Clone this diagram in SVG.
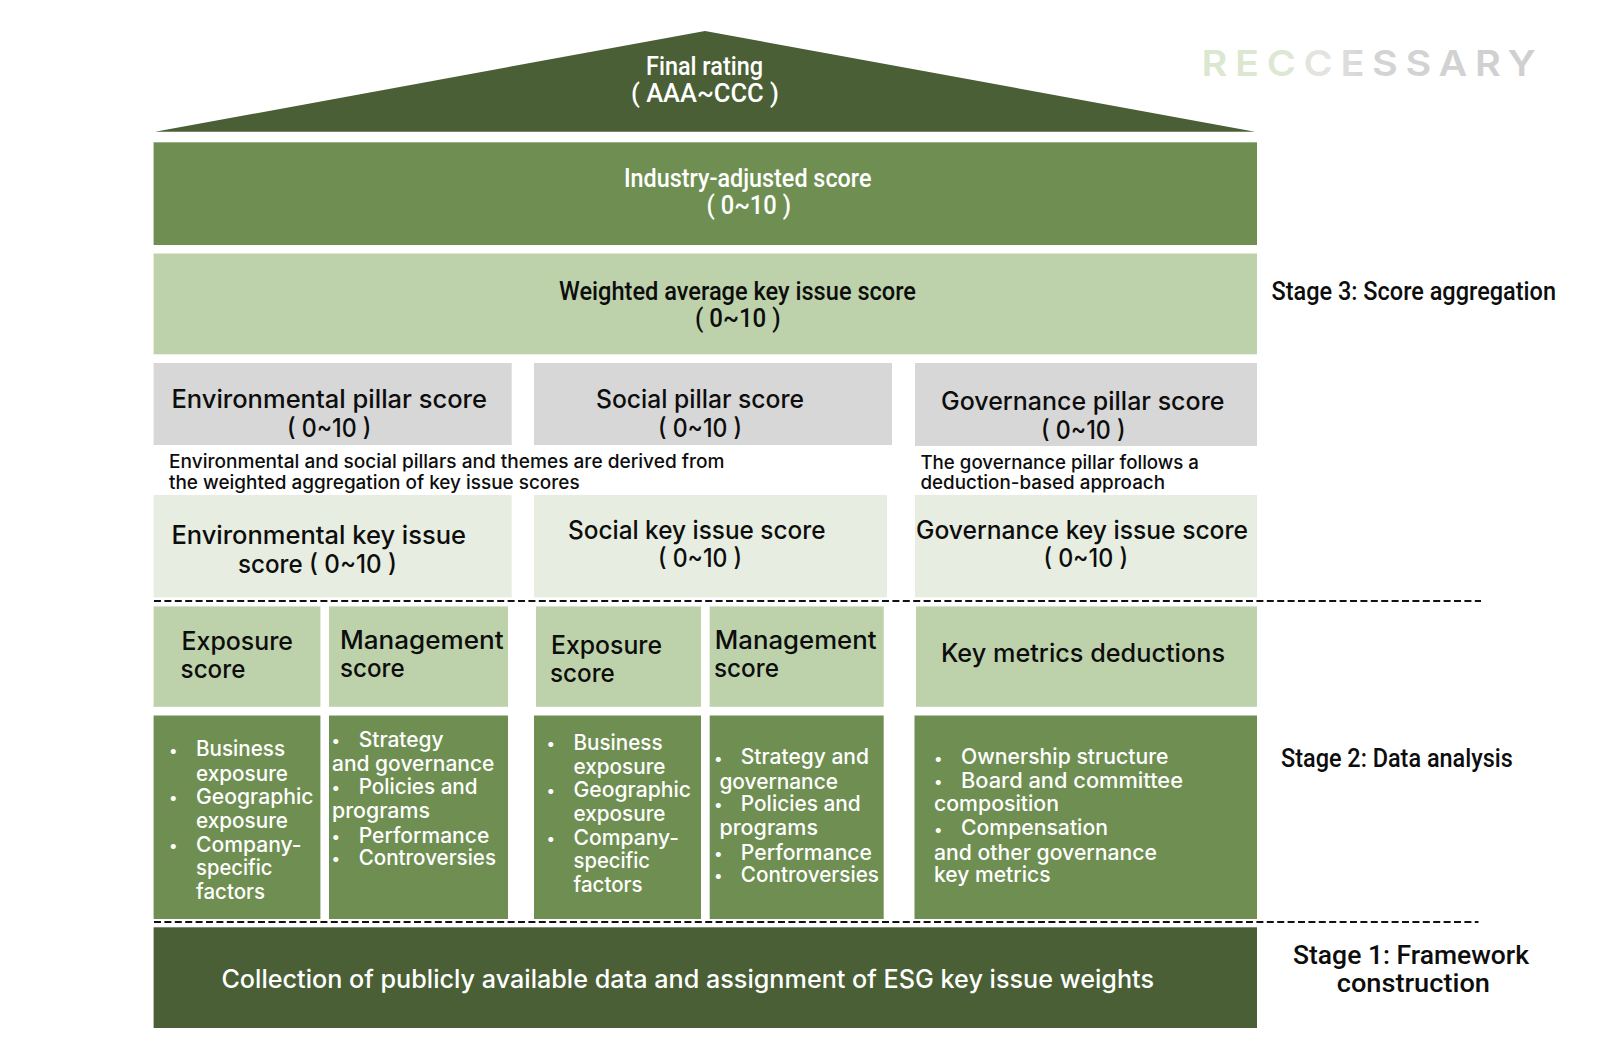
<svg xmlns="http://www.w3.org/2000/svg" width="1600" height="1058" viewBox="0 0 1600 1058">
<style>
text{white-space:pre}
.r{font-family:"Roboto","Liberation Sans",sans-serif;font-size:25.5px;font-weight:500}
.i{font-family:"Inter","Noto Sans",sans-serif;font-size:25px;font-weight:500}
.s{font-size:21px}
.n{font-size:18.5px}
.b{font-size:16px}
.w{fill:#fff}
.k{fill:#0d0d0d}
.dark{fill:#4a5f35}
.mid{fill:#6f8f52}
.light{fill:#bdd2aa}
.gray{fill:#d7d7d7}
.pale{fill:#e7ede0}
.dash{stroke:#111;stroke-width:2;stroke-dasharray:7 3.4;fill:none}
</style>
<defs>
<linearGradient id="logoFill" gradientUnits="userSpaceOnUse" x1="1201" y1="0" x2="1537" y2="0">
<stop offset="0" stop-color="#dbe7d0"/><stop offset="0.25" stop-color="#dde8d4"/><stop offset="0.38" stop-color="#e3e3e3"/><stop offset="0.5" stop-color="#d4d4d4"/><stop offset="1" stop-color="#cfcfcf"/>
</linearGradient>
</defs>
<rect width="1600" height="1058" fill="#fff"/>
<g id="logo"><text x="1201.5" y="76" font-family="Inter, sans-serif" font-size="36" font-weight="600" letter-spacing="7" fill="url(#logoFill)" textLength="342" lengthAdjust="spacingAndGlyphs">RECCESSARY</text></g>
<g id="final-rating"><polygon class="dark" points="705,31 1255,131.8 155,131.8"/>
<text class="r w" x="646" y="75" textLength="117" lengthAdjust="spacingAndGlyphs">Final rating</text>
<text class="r w" x="631" y="102" textLength="148" lengthAdjust="spacingAndGlyphs">( AAA~CCC )</text></g>
<g id="industry-adjusted"><rect class="mid" x="153.6" y="142.3" width="1103.4" height="102.7"/>
<text class="r w" x="624" y="186.6" textLength="247.4" lengthAdjust="spacingAndGlyphs">Industry-adjusted score</text>
<text class="r w" x="706.6" y="214" textLength="84.4" lengthAdjust="spacingAndGlyphs">( 0~10 )</text></g>
<g id="weighted-average"><rect class="light" x="153.6" y="253.5" width="1103.4" height="100.8"/>
<text class="r k" x="559" y="299.5" textLength="357" lengthAdjust="spacingAndGlyphs">Weighted average key issue score</text>
<text class="r k" x="695" y="327" textLength="85.6" lengthAdjust="spacingAndGlyphs">( 0~10 )</text></g>
<g id="stage-3"><text class="r k" x="1271.4" y="299.5" textLength="284.6" lengthAdjust="spacingAndGlyphs">Stage 3: Score aggregation</text></g>
<g id="env-pillar"><rect class="gray" x="153.6" y="363" width="358.1" height="82"/>
<text class="i k" x="171.4" y="408.4" textLength="315.6" lengthAdjust="spacingAndGlyphs">Environmental pillar score</text>
<text class="i k" x="287" y="436.5" textLength="84.4" lengthAdjust="spacingAndGlyphs">( 0~10 )</text></g>
<g id="soc-pillar"><rect class="gray" x="534" y="363" width="358" height="82"/>
<text class="i k" x="596" y="408.4" textLength="208" lengthAdjust="spacingAndGlyphs">Social pillar score</text>
<text class="i k" x="658" y="436.5" textLength="84" lengthAdjust="spacingAndGlyphs">( 0~10 )</text></g>
<g id="gov-pillar"><rect class="gray" x="915" y="363" width="342" height="83"/>
<text class="i k" x="941" y="410" textLength="283.5" lengthAdjust="spacingAndGlyphs">Governance pillar score</text>
<text class="i k" x="1041" y="438.5" textLength="84.5" lengthAdjust="spacingAndGlyphs">( 0~10 )</text></g>
<g id="env-soc-note"><text class="i n k" x="169" y="467.5" textLength="555.5" lengthAdjust="spacingAndGlyphs">Environmental and social pillars and themes are derived from</text>
<text class="i n k" x="169" y="488.5" textLength="410.6" lengthAdjust="spacingAndGlyphs">the weighted aggregation of key issue scores</text></g>
<g id="gov-note"><text class="i n k" x="920.4" y="468.6" textLength="278.6" lengthAdjust="spacingAndGlyphs">The governance pillar follows a</text>
<text class="i n k" x="920.4" y="489" textLength="244.6" lengthAdjust="spacingAndGlyphs">deduction-based approach</text></g>
<g id="env-key"><rect class="pale" x="153.6" y="495" width="358.1" height="102.3"/>
<text class="i k" x="171.4" y="544" textLength="294.6" lengthAdjust="spacingAndGlyphs">Environmental key issue</text>
<text class="i k" x="238" y="572.5" textLength="159" lengthAdjust="spacingAndGlyphs">score ( 0~10 )</text></g>
<g id="soc-key"><rect class="pale" x="534" y="495" width="353" height="102.3"/>
<text class="i k" x="568" y="538.5" textLength="257.5" lengthAdjust="spacingAndGlyphs">Social key issue score</text>
<text class="i k" x="658" y="567" textLength="84" lengthAdjust="spacingAndGlyphs">( 0~10 )</text></g>
<g id="gov-key"><rect class="pale" x="915" y="495" width="342" height="102.3"/>
<text class="i k" x="916" y="538.5" textLength="332" lengthAdjust="spacingAndGlyphs">Governance key issue score</text>
<text class="i k" x="1043.4" y="567" textLength="84.6" lengthAdjust="spacingAndGlyphs">( 0~10 )</text></g>
<g id="connectors">
<line class="dash" x1="154" y1="601" x2="1481" y2="601"/>
<line class="dash" x1="154" y1="922" x2="1478.5" y2="922"/>
</g>
<g id="env-exposure"><rect class="light" x="153.6" y="606.4" width="166.8" height="100.4"/>
<text class="i k" x="181.6" y="650" textLength="111.4" lengthAdjust="spacingAndGlyphs">Exposure</text>
<text class="i k" x="180.6" y="678" textLength="64.8" lengthAdjust="spacingAndGlyphs">score</text></g>
<g id="env-management"><rect class="light" x="329" y="606.4" width="179" height="100.4"/>
<text class="i k" x="340" y="648.5" textLength="163.6" lengthAdjust="spacingAndGlyphs">Management</text>
<text class="i k" x="340" y="676.5" textLength="64.6" lengthAdjust="spacingAndGlyphs">score</text></g>
<g id="soc-exposure"><rect class="light" x="536" y="606.4" width="165" height="100.4"/>
<text class="i k" x="551" y="653.6" textLength="111" lengthAdjust="spacingAndGlyphs">Exposure</text>
<text class="i k" x="550" y="681.5" textLength="64.8" lengthAdjust="spacingAndGlyphs">score</text></g>
<g id="soc-management"><rect class="light" x="709.7" y="606.4" width="174" height="100.4"/>
<text class="i k" x="714.8" y="648.5" textLength="161.7" lengthAdjust="spacingAndGlyphs">Management</text>
<text class="i k" x="714" y="676.5" textLength="65" lengthAdjust="spacingAndGlyphs">score</text></g>
<g id="key-metrics"><rect class="light" x="916" y="606.4" width="341" height="100.4"/>
<text class="i k" x="941" y="662" textLength="284" lengthAdjust="spacingAndGlyphs">Key metrics deductions</text></g>
<g id="env-exposure-detail"><rect class="mid" x="153.6" y="715.5" width="166.8" height="203.5"/>
<text class="i b w" x="169" y="755.5">•</text><text class="i s w" x="196" y="756.3" textLength="89" lengthAdjust="spacingAndGlyphs">Business</text>
<text class="i s w" x="196" y="780.8" textLength="92" lengthAdjust="spacingAndGlyphs">exposure</text>
<text class="i b w" x="169" y="803">•</text><text class="i s w" x="196" y="803.7" textLength="117.5" lengthAdjust="spacingAndGlyphs">Geographic</text>
<text class="i s w" x="196" y="828" textLength="92" lengthAdjust="spacingAndGlyphs">exposure</text>
<text class="i b w" x="169" y="851">•</text><text class="i s w" x="196" y="852" textLength="105.6" lengthAdjust="spacingAndGlyphs">Company-</text>
<text class="i s w" x="196" y="875" textLength="76.5" lengthAdjust="spacingAndGlyphs">specific</text>
<text class="i s w" x="196" y="898.7" textLength="69" lengthAdjust="spacingAndGlyphs">factors</text></g>
<g id="env-management-detail"><rect class="mid" x="329" y="715.5" width="179" height="203.5"/>
<text class="i b w" x="331.5" y="746">•</text><text class="i s w" x="358.7" y="747" textLength="85" lengthAdjust="spacingAndGlyphs">Strategy</text>
<text class="i s w" x="332" y="771.4" textLength="162.4" lengthAdjust="spacingAndGlyphs">and governance</text>
<text class="i b w" x="331.5" y="793">•</text><text class="i s w" x="358.7" y="793.6" textLength="118.9" lengthAdjust="spacingAndGlyphs">Policies and</text>
<text class="i s w" x="332" y="818" textLength="98" lengthAdjust="spacingAndGlyphs">programs</text>
<text class="i b w" x="331.5" y="842">•</text><text class="i s w" x="358.7" y="842.5" textLength="130.6" lengthAdjust="spacingAndGlyphs">Performance</text>
<text class="i b w" x="331.5" y="864">•</text><text class="i s w" x="358.7" y="865" textLength="137.3" lengthAdjust="spacingAndGlyphs">Controversies</text></g>
<g id="soc-exposure-detail"><rect class="mid" x="534" y="715.5" width="167" height="203.5"/>
<text class="i b w" x="546.5" y="749">•</text><text class="i s w" x="573.5" y="749.5" textLength="89" lengthAdjust="spacingAndGlyphs">Business</text>
<text class="i s w" x="573.5" y="774" textLength="92" lengthAdjust="spacingAndGlyphs">exposure</text>
<text class="i b w" x="546.5" y="796">•</text><text class="i s w" x="573.5" y="796.7" textLength="117.5" lengthAdjust="spacingAndGlyphs">Geographic</text>
<text class="i s w" x="573.5" y="821" textLength="92" lengthAdjust="spacingAndGlyphs">exposure</text>
<text class="i b w" x="546.5" y="844">•</text><text class="i s w" x="573.5" y="845" textLength="105.6" lengthAdjust="spacingAndGlyphs">Company-</text>
<text class="i s w" x="573.5" y="867.7" textLength="76.5" lengthAdjust="spacingAndGlyphs">specific</text>
<text class="i s w" x="573.5" y="892" textLength="69" lengthAdjust="spacingAndGlyphs">factors</text></g>
<g id="soc-management-detail"><rect class="mid" x="709.7" y="715.5" width="174" height="203.5"/>
<text class="i b w" x="714" y="763.5">•</text><text class="i s w" x="740.8" y="764" textLength="128.2" lengthAdjust="spacingAndGlyphs">Strategy and</text>
<text class="i s w" x="719.4" y="788.6" textLength="118.6" lengthAdjust="spacingAndGlyphs">governance</text>
<text class="i b w" x="714" y="810">•</text><text class="i s w" x="740.8" y="811" textLength="119.9" lengthAdjust="spacingAndGlyphs">Policies and</text>
<text class="i s w" x="719.4" y="835.4" textLength="98.6" lengthAdjust="spacingAndGlyphs">programs</text>
<text class="i b w" x="714" y="859">•</text><text class="i s w" x="740.8" y="860" textLength="131.2" lengthAdjust="spacingAndGlyphs">Performance</text>
<text class="i b w" x="714" y="881">•</text><text class="i s w" x="740.8" y="882" textLength="138.2" lengthAdjust="spacingAndGlyphs">Controversies</text></g>
<g id="gov-detail"><rect class="mid" x="914.5" y="715.5" width="342.5" height="203.5"/>
<text class="i b w" x="934" y="763.5">•</text><text class="i s w" x="961" y="764" textLength="207.4" lengthAdjust="spacingAndGlyphs">Ownership structure</text>
<text class="i b w" x="934" y="787">•</text><text class="i s w" x="961" y="788" textLength="222" lengthAdjust="spacingAndGlyphs">Board and committee</text>
<text class="i s w" x="934" y="811" textLength="125" lengthAdjust="spacingAndGlyphs">composition</text>
<text class="i b w" x="934" y="834.5">•</text><text class="i s w" x="961" y="835.4" textLength="147" lengthAdjust="spacingAndGlyphs">Compensation</text>
<text class="i s w" x="934" y="860" textLength="223" lengthAdjust="spacingAndGlyphs">and other governance</text>
<text class="i s w" x="934" y="882" textLength="116.5" lengthAdjust="spacingAndGlyphs">key metrics</text></g>
<g id="stage-2"><text class="r k" x="1281" y="767.4" textLength="231.8" lengthAdjust="spacingAndGlyphs">Stage 2: Data analysis</text></g>
<g id="framework"><rect class="dark" x="153.6" y="927.3" width="1103.4" height="100.7"/>
<text class="i w" x="221.4" y="988" textLength="932.6" lengthAdjust="spacingAndGlyphs">Collection of publicly available data and assignment of ESG key issue weights</text></g>
<g id="stage-1"><text class="r k" x="1293" y="964" textLength="236" lengthAdjust="spacingAndGlyphs">Stage 1: Framework</text>
<text class="r k" x="1336.7" y="992" textLength="153.3" lengthAdjust="spacingAndGlyphs">construction</text></g>
</svg>
